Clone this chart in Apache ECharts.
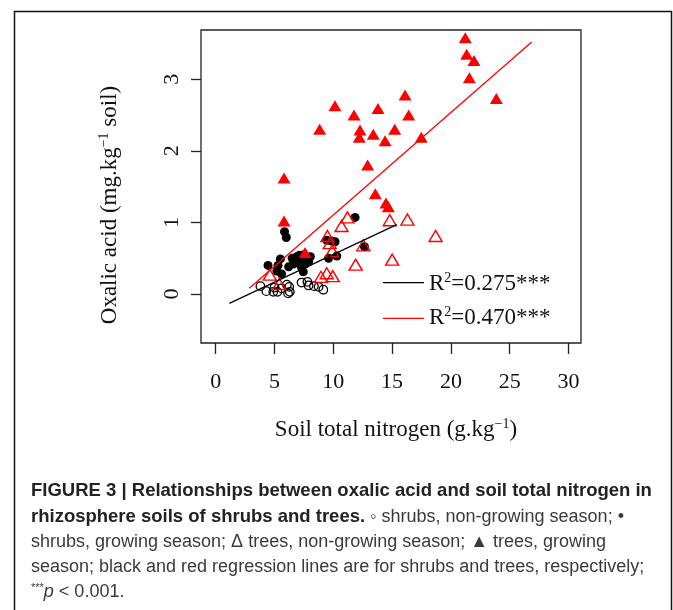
<!DOCTYPE html>
<html>
<head>
<meta charset="utf-8">
<script src="https://cdn.jsdelivr.net/npm/echarts@6/dist/echarts.min.js"></script>
<style>html,body{margin:0;padding:0;background:#fff;}#c{width:673px;height:610px;}</style>
</head>
<body>
<div id="c"></div>
<script>
// tick values
const xTicks = [0, 5, 10, 15, 20, 25, 30];
const yTicks = [0, 1, 2, 3];

// shrubs, non-growing season (open circles) [N, oxalic acid]
const shrubsNonGrowing = [
  [3.8, 0.11], [4.3, 0.04], [4.9, 0.03], [5.25, 0.03], [5.6, 0.08], [5.0, 0.09],
  [6.05, 0.13], [6.25, 0.10], [6.3, 0.03], [6.15, 0.01], [7.3, 0.16], [7.8, 0.17],
  [7.9, 0.12], [8.35, 0.11], [8.75, 0.10], [9.15, 0.06]
];
// shrubs, growing season (filled circles)
const shrubsGrowing = [
  [4.45, 0.40], [5.2, 0.32], [5.5, 0.49], [5.6, 0.28], [5.85, 0.87], [6.0, 0.79],
  [6.2, 0.38], [6.5, 0.50], [6.75, 0.46], [6.9, 0.52], [7.0, 0.44], [7.2, 0.50],
  [7.3, 0.37], [7.5, 0.55], [7.6, 0.42], [7.75, 0.47], [8.05, 0.52], [7.45, 0.31],
  [6.6, 0.42], [7.1, 0.54], [7.9, 0.45], [5.3, 0.40],
  [9.45, 0.75], [9.85, 0.74], [10.15, 0.73], [9.6, 0.50], [10.3, 0.53],
  [11.85, 1.07], [12.65, 0.66]
];
// trees, non-growing season (open triangles)
const treesNonGrowing = [
  [11.2, 1.07], [10.7, 0.95], [9.5, 0.81], [9.7, 0.71], [9.9, 0.60], [12.55, 0.68],
  [11.9, 0.41], [9.44, 0.29], [8.95, 0.24], [9.95, 0.25], [4.6, 0.27], [5.4, 0.14],
  [14.8, 1.03], [16.3, 1.04], [18.7, 0.81], [15.0, 0.48]
];
// trees, growing season (filled triangles)
const treesGrowing = [
  [10.14, 2.63], [11.76, 2.50], [13.8, 2.59], [8.84, 2.30], [12.27, 2.29], [12.21, 2.19],
  [13.4, 2.23], [14.4, 2.14], [12.92, 1.80], [5.81, 1.62], [13.57, 1.40], [14.48, 1.27],
  [14.68, 1.22], [5.81, 1.02], [21.22, 3.58], [21.34, 3.35], [21.96, 3.26], [21.57, 3.02],
  [23.86, 2.73], [16.1, 2.78], [16.41, 2.50], [15.22, 2.30], [17.48, 2.19], [7.6, 0.58]
];
// regression line end points
const shrubLine = [[1.16, -0.13], [15.39, 0.97]];
const treeLine = [[2.86, 0.08], [26.87, 3.52]];
const legendLabels = ['0.275***', '0.470***'];

const chart = echarts.init(document.getElementById('c'));
const serif = 'Liberation Serif, Times New Roman, serif';
const sans = 'Liberation Sans, Arial, sans-serif';
const capGrey = '#3a3a3a';

const option = {
  animation: false,
  backgroundColor: '#fff',
  grid: { left: 201, top: 30, width: 380, height: 313, show: true, borderColor: '#222', borderWidth: 1.3, backgroundColor: 'transparent' },
  xAxis: {
    type: 'value', min: -1.25, max: 31.06,
    axisLine: { show: false, onZero: false }, splitLine: { show: false },
    axisTick: { show: true, customValues: xTicks, length: 11, lineStyle: { color: '#222', width: 1.3 } },
    axisLabel: { customValues: xTicks, fontFamily: serif, fontSize: 22, color: '#111', margin: 28 }
  },
  yAxis: {
    type: 'value', min: -0.684, max: 3.687,
    axisLine: { show: false, onZero: false }, splitLine: { show: false },
    axisTick: { show: true, customValues: yTicks, length: 10, lineStyle: { color: '#222', width: 1.3 } },
    axisLabel: { customValues: yTicks, fontFamily: serif, fontSize: 22, color: '#111', margin: 18, rotate: 90 }
  },
  series: [
    { type: 'scatter', name: 'shrubs, non-growing season', data: shrubsNonGrowing, symbol: 'circle', symbolSize: 8.5,
      itemStyle: { color: 'rgba(0,0,0,0)', borderColor: '#000', borderWidth: 1.3, opacity: 1 } },
    { type: 'scatter', name: 'shrubs, growing season', data: shrubsGrowing, symbol: 'circle', symbolSize: 9,
      itemStyle: { color: '#000', opacity: 1 } },
    { type: 'scatter', name: 'trees, non-growing season', data: treesNonGrowing, symbol: 'triangle', symbolSize: [13, 11],
      itemStyle: { color: 'rgba(0,0,0,0)', borderColor: '#f00', borderWidth: 1.4, opacity: 1 } },
    { type: 'scatter', name: 'trees, growing season', data: treesGrowing, symbol: 'triangle', symbolSize: [13, 11],
      itemStyle: { color: '#f00', opacity: 1 } },
    { type: 'line', name: 'shrubs fit', data: shrubLine, symbol: 'none', lineStyle: { color: '#000', width: 1.3 } },
    { type: 'line', name: 'trees fit', data: treeLine, symbol: 'none', lineStyle: { color: '#f00', width: 1.3 } }
  ],
  graphic: [
    { type: 'rect', shape: { x: 14.5, y: 11.5, width: 657, height: 640 }, style: { fill: 'none', stroke: '#111', lineWidth: 1.5 }, silent: true },
    { type: 'text', x: 396, y: 430, style: {
        text: '{a|Soil total nitrogen (g.kg}{s|−1}{a|)}', align: 'center', verticalAlign: 'middle',
        rich: { a: { fontFamily: serif, fontSize: 23, fill: '#111', lineHeight: 26 }, s: { fontFamily: serif, fontSize: 14, fill: '#111', verticalAlign: 'top', lineHeight: 26 } } } },
    { type: 'text', x: 110, y: 205, rotation: Math.PI / 2, style: {
        text: '{a|Oxalic acid (mg.kg}{s|−1}{a| soil)}', align: 'center', verticalAlign: 'middle',
        rich: { a: { fontFamily: serif, fontSize: 23, fill: '#111', lineHeight: 26 }, s: { fontFamily: serif, fontSize: 14, fill: '#111', verticalAlign: 'top', lineHeight: 26 } } } },
    { type: 'line', shape: { x1: 383, y1: 282.7, x2: 424, y2: 282.7 }, style: { stroke: '#000', lineWidth: 1.3 } },
    { type: 'line', shape: { x1: 383, y1: 318.3, x2: 424, y2: 318.3 }, style: { stroke: '#f00', lineWidth: 1.3 } },
    { type: 'text', x: 429, y: 284, style: {
        text: '{a|R}{s|2}{a|=' + legendLabels[0] + '}', align: 'left', verticalAlign: 'middle',
        rich: { a: { fontFamily: serif, fontSize: 23, fill: '#111', lineHeight: 26 }, s: { fontFamily: serif, fontSize: 14, fill: '#111', verticalAlign: 'top', lineHeight: 26 } } } },
    { type: 'text', x: 429, y: 318, style: {
        text: '{a|R}{s|2}{a|=' + legendLabels[1] + '}', align: 'left', verticalAlign: 'middle',
        rich: { a: { fontFamily: serif, fontSize: 23, fill: '#111', lineHeight: 26 }, s: { fontFamily: serif, fontSize: 14, fill: '#111', verticalAlign: 'top', lineHeight: 26 } } } },
    { type: 'text', x: 31, y: 491, style: { text: 'FIGURE 3 | Relationships between oxalic acid and soil total nitrogen in',
        fontFamily: sans, fontWeight: 'bold', fontSize: 18.5, fill: '#222', verticalAlign: 'middle' } },
    { type: 'text', x: 31, y: 517, style: { text: '{b|rhizosphere soils of shrubs and trees.}{r| ◦ shrubs, non-growing season; •}', verticalAlign: 'middle',
        rich: { b: { fontFamily: sans, fontWeight: 'bold', fontSize: 18.5, fill: '#222' }, r: { fontFamily: sans, fontSize: 18, fill: capGrey } } } },
    { type: 'text', x: 31, y: 542, style: { text: 'shrubs, growing season; Δ trees, non-growing season; ▲ trees, growing',
        fontFamily: sans, fontSize: 18, fill: capGrey, verticalAlign: 'middle' } },
    { type: 'text', x: 31, y: 567, style: { text: 'season; black and red regression lines are for shrubs and trees, respectively;',
        fontFamily: sans, fontSize: 18, fill: capGrey, verticalAlign: 'middle' } },
    { type: 'text', x: 31, y: 592, style: { text: '{s|***}{i|p}{r| < 0.001.}', verticalAlign: 'middle',
        rich: { s: { fontFamily: sans, fontSize: 11, fill: capGrey, verticalAlign: 'top', lineHeight: 20 }, i: { fontFamily: sans, fontStyle: 'italic', fontSize: 18, fill: capGrey, lineHeight: 20 }, r: { fontFamily: sans, fontSize: 18, fill: capGrey, lineHeight: 20 } } } }
  ]
};
chart.setOption(option);
</script>
</body>
</html>
